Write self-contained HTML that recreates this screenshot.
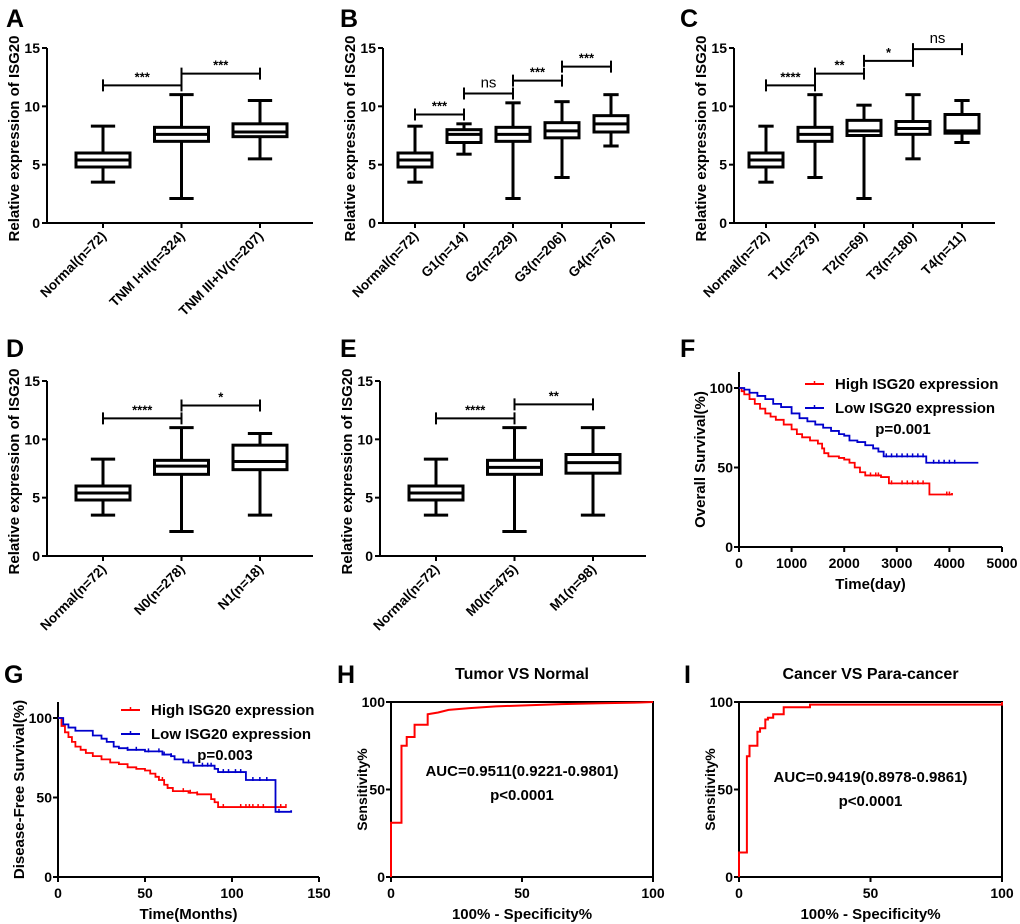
<!DOCTYPE html>
<html><head><meta charset="utf-8">
<style>
html,body{margin:0;padding:0;background:#fff;}
svg{display:block;font-family:"Liberation Sans",Arial,sans-serif;}
text{font-weight:bold;fill:#000;}
</style></head>
<body>
<svg id="fig" width="1020" height="924" viewBox="0 0 1020 924" xmlns="http://www.w3.org/2000/svg"></svg>
<script>
// ---------- Box plot data ----------
const boxACats = ["Normal(n=72)","TNM I+II(n=324)","TNM III+IV(n=207)"];
const boxAMin = [3.5,2.1,5.5];
const boxAQ1 = [4.8,7.0,7.4];
const boxAMed = [5.4,7.6,7.8];
const boxAQ3 = [6.0,8.2,8.5];
const boxAMax = [8.3,11.0,10.5];
const boxASig = ["***","***"];
const boxASigY = [11.8,12.8];

const boxBCats = ["Normal(n=72)","G1(n=14)","G2(n=229)","G3(n=206)","G4(n=76)"];
const boxBMin = [3.5,5.9,2.1,3.9,6.6];
const boxBQ1 = [4.8,6.9,7.0,7.3,7.8];
const boxBMed = [5.4,7.6,7.6,7.9,8.5];
const boxBQ3 = [6.0,8.0,8.2,8.6,9.2];
const boxBMax = [8.3,8.5,10.3,10.4,11.0];
const boxBSig = ["***","ns","***","***"];
const boxBSigY = [9.3,11.1,12.2,13.4];

const boxCCats = ["Normal(n=72)","T1(n=273)","T2(n=69)","T3(n=180)","T4(n=11)"];
const boxCMin = [3.5,3.9,2.1,5.5,6.9];
const boxCQ1 = [4.8,7.0,7.5,7.6,7.7];
const boxCMed = [5.4,7.6,7.9,8.1,7.9];
const boxCQ3 = [6.0,8.2,8.8,8.7,9.3];
const boxCMax = [8.3,11.0,10.1,11.0,10.5];
const boxCSig = ["****","**","*","ns"];
const boxCSigY = [11.8,12.8,13.9,14.9];

const boxDCats = ["Normal(n=72)","N0(n=278)","N1(n=18)"];
const boxDMin = [3.5,2.1,3.5];
const boxDQ1 = [4.8,7.0,7.4];
const boxDMed = [5.4,7.7,8.1];
const boxDQ3 = [6.0,8.2,9.5];
const boxDMax = [8.3,11.0,10.5];
const boxDSig = ["****","*"];
const boxDSigY = [11.8,12.9];

const boxECats = ["Normal(n=72)","M0(n=475)","M1(n=98)"];
const boxEMin = [3.5,2.1,3.5];
const boxEQ1 = [4.8,7.0,7.1];
const boxEMed = [5.4,7.6,8.0];
const boxEQ3 = [6.0,8.2,8.7];
const boxEMax = [8.3,11.0,11.0];
const boxESig = ["****","**"];
const boxESigY = [11.8,13.0];

const boxYTicks = [0,5,10,15];

// ---------- KM data ----------
const fHighT = [0,50,100,200,300,400,500,600,700,850,1000,1100,1200,1350,1500,1580,1620,1700,1900,2000,2100,2200,2300,2400,2700,2850,3600,3620,4050];
const fHighS = [100,98,96,93,90,87,84,82,80,77,74,71,69,67,65,62,59,57,56,55,53,50,47,45,44,40,40,33,34];
const fLowT = [0,100,200,350,500,650,800,1000,1150,1300,1450,1600,1750,1900,2000,2100,2250,2400,2550,2650,2750,3550,3560,4550];
const fLowS = [100,99,97,95,93,90,88,84,81,79,77,75,73,71,70,67,66,64,62,60,57,57,53,53];
const fHighCens = [2500,2600,2650,2900,3100,3200,3300,3400,3500,3950,4000];
const fLowCens = [2800,2900,3000,3100,3200,3300,3400,3500,3700,3800,3900,4000,4100];
const fXTicks = [0,1000,2000,3000,4000,5000];
const kmYTicks = [0,50,100];

const gHighT = [0,2,4,6,8,10,13,16,20,25,30,35,40,45,50,53,56,58,61,63,66,75,80,88,90,92,131];
const gHighS = [100,95,91,88,85,82,80,78,76,74,72,71,69,68,67,65,63,61,58,56,54,53,52,49,47,44,44];
const gLowT = [0,3,6,10,15,20,25,28,32,35,40,50,60,65,67,72,78,90,92,107,108,124,125,134];
const gLowS = [100,96,94,92,92,89,87,85,82,81,80,79,77,76,74,72,70,68,66,66,61,61,41,42];
const gHighCens = [60,63,72,76,80,95,105,108,110,112,115,118,125,128,131];
const gLowCens = [40,45,52,58,61,65,75,78,83,86,88,95,98,102,105,112,116,120,127];
const gXTicks = [0,50,100,150];

// ---------- ROC data ----------
const hFpr = [0,0,4,4,6,6,9,9,14,14,18,22,30,40,50,65,80,95,100];
const hTpr = [0,31,31,75,75,80,80,87,87,93,94,95.5,96.5,97.5,98,98.8,99.3,99.7,100];
const iFpr = [0,0,3,3,4,4,7,7,8,8,10,10,11,11,13,13,17,17,27,27,100,100];
const iTpr = [0,14,14,69,69,75,75,83,83,85,85,90,90,91,91,93,93,97,97,98.5,98.5,100];
const rocXTicks = [0,50,100];
const rocYTicks = [0,50,100];

// ---------- helpers ----------
const NS = "http://www.w3.org/2000/svg";
const svg = document.getElementById("fig");
function el(tag, attrs, parent, txt){
  const e = document.createElementNS(NS, tag);
  for (const k in attrs) e.setAttribute(k, attrs[k]);
  if (txt !== undefined) e.textContent = txt;
  (parent || svg).appendChild(e);
  return e;
}
function group(name, parent){
  const g = el("g", {}, parent);
  
  
  return g;
}
function letter(t, x, y){
  const e = el("text", {x:x, y:y, "font-size":25}, svg, t);
  
  
}

function boxPanel(id, L, cats, mn, q1, md, q3, mx, sig, sigY){
  const g = group('panel-' + id);
  const y = v => L.y0 - (v/15) * (L.y0 - L.y15);
  const x = i => L.t0 + i * L.step;
  const ax = el("path", {d:`M${L.ax},${L.y15}V${L.y0}H${L.xEnd}`, stroke:"#000", "stroke-width":2, fill:"none"}, g);
  
  
  boxYTicks.forEach(t => {
    el("line", {x1:L.ax-5, x2:L.ax, y1:y(t), y2:y(t), stroke:"#000", "stroke-width":2}, g);
    const tl = el("text", {x:L.ax-7, y:y(t)+5, "font-size":14, "text-anchor":"end"}, g, t);
    
    
  });
  const yt = el("text", {x:0, y:0, "font-size":15, "text-anchor":"middle", transform:`translate(${L.ax-28},${(L.y0+L.y15)/2+3}) rotate(-90)`}, g, "Relative expression of ISG20");
  
  
  cats.forEach((c, i) => {
    const cx = x(i), hw = L.hw;
    el("line", {x1:cx, x2:cx, y1:L.y0, y2:L.y0+5, stroke:"#000", "stroke-width":2}, g);
    const xl = el("text", {x:0, y:0, "font-size":13.5, "text-anchor":"end", transform:`translate(${cx+4},${L.y0+14}) rotate(-45)`}, g, c);
    
    
    const bg = group('box-' + i, g);
    const cap = hw*0.45;
    el("line", {x1:cx-cap, x2:cx+cap, y1:y(mn[i]), y2:y(mn[i]), stroke:"#000", "stroke-width":3}, bg);
    el("line", {x1:cx-cap, x2:cx+cap, y1:y(mx[i]), y2:y(mx[i]), stroke:"#000", "stroke-width":3}, bg);
    el("line", {x1:cx, x2:cx, y1:y(mx[i]), y2:y(q3[i]), stroke:"#000", "stroke-width":3}, bg);
    el("line", {x1:cx, x2:cx, y1:y(q1[i]), y2:y(mn[i]), stroke:"#000", "stroke-width":3}, bg);
    el("rect", {x:cx-hw, y:y(q3[i]), width:2*hw, height:y(q1[i])-y(q3[i]), fill:"#fff", stroke:"#000", "stroke-width":3}, bg);
    el("line", {x1:cx-hw, x2:cx+hw, y1:y(md[i]), y2:y(md[i]), stroke:"#000", "stroke-width":3}, bg);
  });
  sig.forEach((s, i) => {
    const sg = group('significance-bracket-' + i, g);
    const yy = y(sigY[i]), x1 = x(i), x2 = x(i+1);
    el("path", {d:`M${x1},${yy+6}V${yy}H${x2}V${yy+6}M${x1},${yy-6}V${yy}M${x2},${yy-6}V${yy}`, stroke:"#000", "stroke-width":2, fill:"none"}, sg);
    const st = el("text", {x:(x1+x2)/2, y: s==="ns" ? yy-6 : yy-4, "font-size": s==="ns"?15:13, "text-anchor":"middle"}, sg, s);
    st.style.fontWeight = s==="ns" ? "normal" : "bold";
  });
}

boxPanel('a', {ax:47, y15:48, y0:223, xEnd:313, t0:103, step:78.5, hw:27}, boxACats, boxAMin, boxAQ1, boxAMed, boxAQ3, boxAMax, boxASig, boxASigY);
boxPanel('b', {ax:383, y15:48, y0:223, xEnd:645, t0:415, step:49, hw:17}, boxBCats, boxBMin, boxBQ1, boxBMed, boxBQ3, boxBMax, boxBSig, boxBSigY);
boxPanel('c', {ax:734, y15:48, y0:223, xEnd:995, t0:766, step:49, hw:17}, boxCCats, boxCMin, boxCQ1, boxCMed, boxCQ3, boxCMax, boxCSig, boxCSigY);
boxPanel('d', {ax:47, y15:381, y0:556, xEnd:313, t0:103, step:78.5, hw:27}, boxDCats, boxDMin, boxDQ1, boxDMed, boxDQ3, boxDMax, boxDSig, boxDSigY);
boxPanel('e', {ax:380, y15:381, y0:556, xEnd:646, t0:436, step:78.5, hw:27}, boxECats, boxEMin, boxEQ1, boxEMed, boxEQ3, boxEMax, boxESig, boxESigY);

function kmPanel(id, L, xMax, xTicks, xTitle, yTitle, hT, hS, lT, lS, hC, lC, pText){
  const g = group('panel-' + id);
  const x = v => L.ax + v / xMax * (L.xEnd - L.ax);
  const y = v => L.y0 - v / 100 * (L.y0 - L.y100);
  el("path", {d:`M${L.ax},${L.top}V${L.y0}H${L.xEnd}`, stroke:"#000", "stroke-width":2, fill:"none"}, g);
  kmYTicks.forEach(t => {
    el("line", {x1:L.ax-5, x2:L.ax, y1:y(t), y2:y(t), stroke:"#000", "stroke-width":2}, g);
    el("text", {x:L.ax-6, y:y(t)+5, "font-size":14, "text-anchor":"end"}, g, t);
  });
  xTicks.forEach(t => {
    el("line", {x1:x(t), x2:x(t), y1:L.y0, y2:L.y0+5, stroke:"#000", "stroke-width":2}, g);
    el("text", {x:x(t), y:L.y0+21, "font-size":14, "text-anchor":"middle"}, g, t);
  });
  const xt = el("text", {x:(L.ax+L.xEnd)/2, y:L.y0+42, "font-size":15, "text-anchor":"middle"}, g, xTitle);
  
  
  const yt = el("text", {x:0, y:0, "font-size":15, "text-anchor":"middle", transform:`translate(${L.ax-34},${(L.y0+L.top)/2}) rotate(-90)`}, g, yTitle);
  
  
  function step(T, S, C, color, name){
    let d = `M${x(T[0])},${y(S[0])}`;
    for (let i = 1; i < T.length; i++) d += `H${x(T[i])}V${y(S[i])}`;
    const p = el("path", {d:d, stroke:color, "stroke-width":1.8, fill:"none"}, g);
    
    
    C.forEach(c => {
      let s = S[0];
      for (let i = 0; i < T.length; i++) if (T[i] <= c) s = S[i];
      el("line", {x1:x(c), x2:x(c), y1:y(s)-3, y2:y(s)+1, stroke:color, "stroke-width":1.5}, g);
    });
  }
  step(hT, hS, hC, "#ff0000", 'high-expression-curve');
  step(lT, lS, lC, "#0000cc", 'low-expression-curve');
  const lg = group('legend', g);
  el("line", {x1:L.lgx, x2:L.lgx+19, y1:L.lgy, y2:L.lgy, stroke:"#ff0000", "stroke-width":2}, lg);
  el("line", {x1:L.lgx+9.5, x2:L.lgx+9.5, y1:L.lgy-3, y2:L.lgy+1, stroke:"#ff0000", "stroke-width":1.5}, lg);
  el("text", {x:L.lgx+30, y:L.lgy+5, "font-size":15}, lg, "High ISG20 expression");
  el("line", {x1:L.lgx, x2:L.lgx+19, y1:L.lgy+24, y2:L.lgy+24, stroke:"#0000cc", "stroke-width":2}, lg);
  el("line", {x1:L.lgx+9.5, x2:L.lgx+9.5, y1:L.lgy+21, y2:L.lgy+25, stroke:"#0000cc", "stroke-width":1.5}, lg);
  el("text", {x:L.lgx+30, y:L.lgy+29, "font-size":15}, lg, "Low ISG20 expression");
  const pt = el("text", {x:L.px, y:L.lgy+50, "font-size":15, "text-anchor":"middle"}, g, pText);
  
  
}
kmPanel('f', {ax:739, top:372, y100:388, y0:547, xEnd:1002, lgx:805, lgy:384, px:903}, 5000, fXTicks, "Time(day)", "Overall Survival(%)", fHighT, fHighS, fLowT, fLowS, fHighCens, fLowCens, "p=0.001");
kmPanel('g', {ax:58, top:702, y100:718, y0:877, xEnd:319, lgx:121, lgy:710, px:225}, 150, gXTicks, "Time(Months)", "Disease-Free Survival(%)", gHighT, gHighS, gLowT, gLowS, gHighCens, gLowCens, "p=0.003");

function rocPanel(id, L, fpr, tpr, title, auc){
  const g = group('panel-' + id);
  const x = v => L.ax + v / 100 * (L.xEnd - L.ax);
  const y = v => L.y0 - v / 100 * (L.y0 - L.y100);
  el("rect", {x:L.ax, y:L.y100, width:L.xEnd-L.ax, height:L.y0-L.y100, fill:"none", stroke:"#000", "stroke-width":2}, g);
  rocYTicks.forEach(t => {
    el("line", {x1:L.ax-5, x2:L.ax, y1:y(t), y2:y(t), stroke:"#000", "stroke-width":2}, g);
    el("text", {x:L.ax-6, y:y(t)+5, "font-size":14, "text-anchor":"end"}, g, t);
  });
  rocXTicks.forEach(t => {
    el("line", {x1:x(t), x2:x(t), y1:L.y0, y2:L.y0+5, stroke:"#000", "stroke-width":2}, g);
    el("text", {x:x(t), y:L.y0+21, "font-size":14, "text-anchor":"middle"}, g, t);
  });
  el("text", {x:(L.ax+L.xEnd)/2, y:L.y0+42, "font-size":15, "text-anchor":"middle"}, g, "100% - Specificity%");
  el("text", {x:0, y:0, "font-size":14, "text-anchor":"middle", transform:`translate(${L.ax-24},${(L.y0+L.y100)/2}) rotate(-90)`}, g, "Sensitivity%");
  const tt = el("text", {x:(L.ax+L.xEnd)/2, y:L.y100-23, "font-size":16, "text-anchor":"middle"}, g, title);
  
  
  let d = "";
  fpr.forEach((f, i) => { d += (i ? "L" : "M") + x(f) + "," + y(tpr[i]); });
  const p = el("path", {d:d, stroke:"#ff0000", "stroke-width":2, fill:"none"}, g);
  
  
  el("text", {x:(L.ax+L.xEnd)/2, y:L.aucY, "font-size":15, "text-anchor":"middle"}, g, auc);
  el("text", {x:(L.ax+L.xEnd)/2, y:L.aucY+24, "font-size":15, "text-anchor":"middle"}, g, "p<0.0001");
}
rocPanel('h', {ax:391, xEnd:653, y100:702, y0:877, aucY:776}, hFpr, hTpr, "Tumor VS Normal", "AUC=0.9511(0.9221-0.9801)");
rocPanel('i', {ax:739, xEnd:1002, y100:702, y0:877, aucY:782}, iFpr, iTpr, "Cancer VS Para-cancer", "AUC=0.9419(0.8978-0.9861)");

letter("A", 6, 27); letter("B", 340, 27); letter("C", 680, 27);
letter("D", 6, 357); letter("E", 340, 357); letter("F", 680, 357);
letter("G", 4, 683); letter("H", 337, 683); letter("I", 684, 683);
</script>
</body></html>
